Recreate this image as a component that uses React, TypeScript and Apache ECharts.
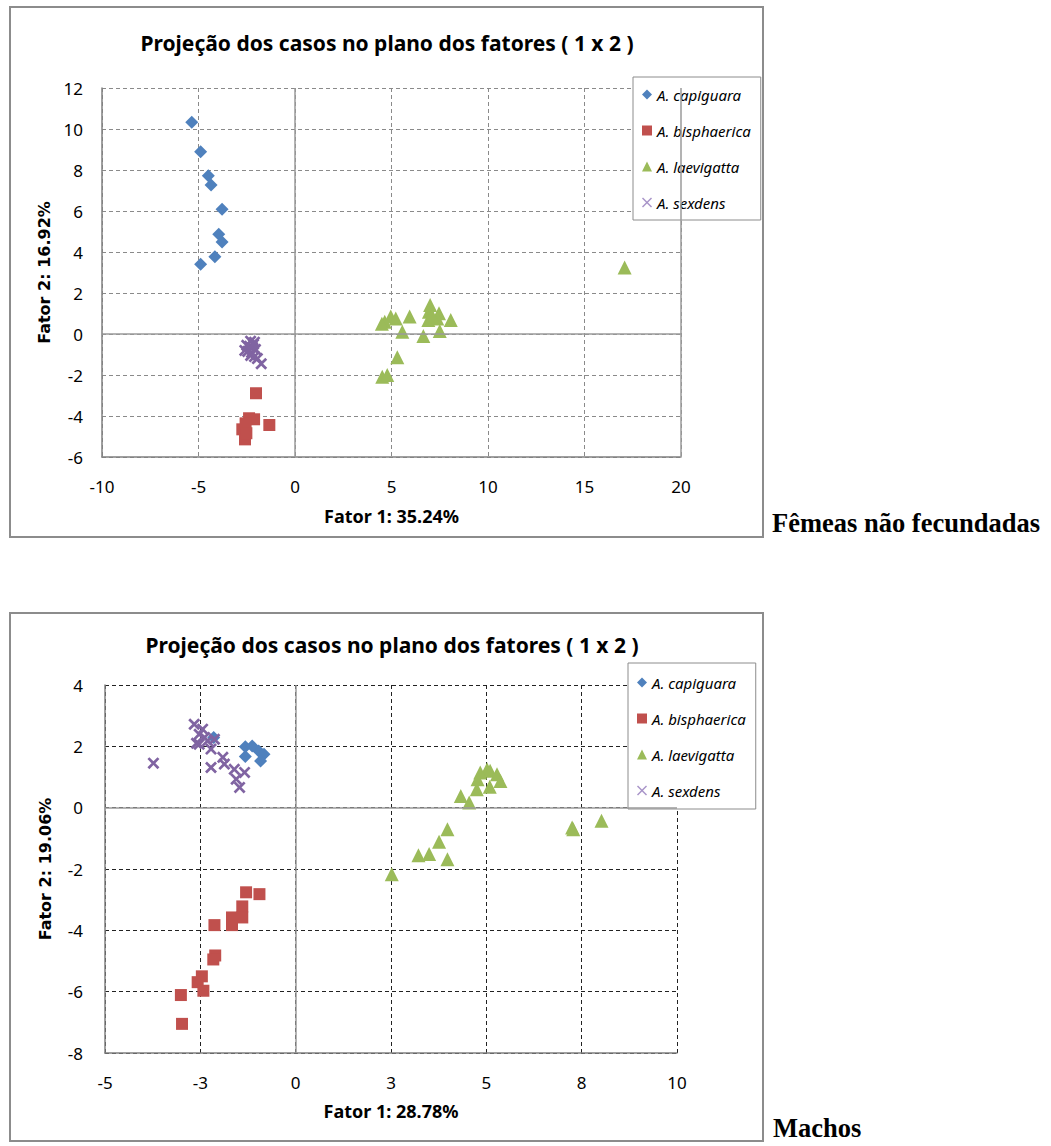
import React, { useEffect, useRef } from "react";
import * as echarts from "echarts";

const speciesNames = ["A. capiguara", "A. bisphaerica", "A. laevigatta", "A. sexdens"];
const speciesColors = ["#4F81BD", "#C0504D", "#9BBB59", "#8064A2"];

const chartTitle = "Projeção dos casos no plano dos fatores ( 1 x 2 )";
const femXName = "Fator 1: 35.24%";
const femYName = "Fator 2: 16.92%";
const macXName = "Fator 1: 28.78%";
const macYName = "Fator 2: 19.06%";
const femLabel = "Fêmeas não fecundadas";
const macLabel = "Machos";

// Fêmeas não fecundadas
const femCapiguara = [
  [-5.35, 10.33], [-4.89, 8.89], [-4.49, 7.72], [-4.35, 7.27], [-3.78, 6.08],
  [-3.95, 4.86], [-3.78, 4.49], [-4.15, 3.77], [-4.89, 3.4],
];
const femBisphaerica = [
  [-2.02, -2.89], [-2.38, -4.11], [-2.12, -4.16], [-1.33, -4.44], [-2.73, -4.65],
  [-2.56, -4.36], [-2.59, -5.14], [-2.52, -4.84],
];
const femLaevigatta = [
  [17.08, 3.25], [7.0, 1.41], [7.46, 1.01], [6.94, 1.09], [4.65, 0.6], [4.96, 0.85],
  [5.22, 0.76], [5.94, 0.85], [6.91, 0.68], [7.37, 0.76], [8.07, 0.68], [5.56, 0.11],
  [6.65, -0.1], [7.5, 0.15], [5.3, -1.14], [4.52, -2.08], [4.78, -2.0], [7.1, 0.9], [4.5, 0.5],
];
const femSexdens = [
  [-2.3, -0.35], [-2.1, -0.4], [-2.5, -0.55], [-2.35, -0.6], [-2.2, -0.65], [-2.6, -0.8],
  [-2.45, -0.85], [-2.25, -0.9], [-2.05, -0.75], [-2.3, -1.05], [-2.1, -1.1], [-1.95, -1.2],
  [-1.75, -1.45], [-2.15, -0.5],
];

// Machos
const macCapiguara = [
  [-1.32, 1.99], [-1.32, 1.67], [-0.97, 1.85], [-0.83, 1.74], [-0.92, 1.52], [-1.14, 2.01], [-2.15, 2.29],
];
const macBisphaerica = [
  [-1.3, -2.76], [-0.95, -2.82], [-1.4, -3.22], [-1.4, -3.58], [-1.67, -3.58], [-1.67, -3.83],
  [-2.13, -3.83], [-2.11, -4.82], [-2.16, -4.95], [-2.46, -5.5], [-2.57, -5.69], [-2.42, -5.97],
  [-3.01, -6.11], [-2.98, -7.05],
];
const macLaevigatta = [
  [5.02, 1.25], [4.84, 1.15], [5.1, 1.2], [5.28, 1.09], [5.37, 0.87], [4.77, 0.93], [4.75, 0.6],
  [5.09, 0.68], [4.33, 0.38], [4.55, 0.17], [3.98, -0.7], [3.76, -1.11], [3.5, -1.51], [3.22, -1.55],
  [3.98, -1.68], [7.28, -0.7], [8.02, -0.43], [2.52, -2.17], [7.25, -0.65],
];
const macSexdens = [
  [-3.73, 1.45], [-2.66, 2.72], [-2.53, 2.39], [-2.39, 2.29], [-2.53, 2.07], [-2.31, 2.18],
  [-2.22, 1.91], [-2.22, 1.31], [-1.91, 1.64], [-1.87, 1.42], [-1.61, 1.25], [-1.34, 1.15],
  [-1.56, 0.93], [-1.47, 0.66], [-2.44, 2.56], [-2.13, 2.23], [-2.6, 2.1],
];

const X_PATH = "path://M0,1.6L1.6,0L5,3.4L8.4,0L10,1.6L6.6,5L10,8.4L8.4,10L5,6.6L1.6,10L0,8.4L3.4,5Z";
const X_THIN = "path://M1,0L5,4L9,0L10,1L6,5L10,9L9,10L5,6L1,10L0,9L4,5L0,1Z";
const symbols = ["diamond", "rect", "triangle", X_PATH];
const sizes = [13, 12, 14, 12];

const FONT = '"Noto Sans", "Open Sans", sans-serif';

function roundLabel(v: number) {
  const r = Math.sign(v) * Math.round(Math.abs(v));
  return String(r === 0 ? 0 : r);
}

export default function App() {
  const ref = useRef<HTMLDivElement>(null);
  useEffect(() => {
    if (!ref.current) return;
    const chart = echarts.init(ref.current, null, { renderer: "svg" });
    const femData = [femCapiguara, femBisphaerica, femLaevigatta, femSexdens];
    const macData = [macCapiguara, macBisphaerica, macLaevigatta, macSexdens];

    const series: any[] = [];
    [femData, macData].forEach((set, gi) => {
      series.push({
        type: "scatter",
        xAxisIndex: gi,
        yAxisIndex: gi,
        data: [],
        silent: true,
        z: 1,
        markLine: {
          silent: true,
          symbol: "none",
          label: { show: false },
          lineStyle: { color: "#9a9a9a", type: "solid", width: 1.5 },
          data: gi === 0 ? [{ xAxis: 0 }, { yAxis: 0 }, { xAxis: 20 }] : [{ xAxis: 0 }, { yAxis: 0 }],
        },
      });
      set.forEach((d, i) => {
        series.push({
          type: "scatter",
          name: speciesNames[i],
          xAxisIndex: gi,
          yAxisIndex: gi,
          data: d,
          symbol: symbols[i],
          symbolSize: sizes[i],
          itemStyle: { color: speciesColors[i], opacity: 1 },
          z: 3,
        });
      });
    });

    const axisLabel = { color: "#000", fontSize: 17, fontFamily: FONT };
    const nameStyleX = { color: "#000", fontSize: 18, fontWeight: "bold", fontFamily: FONT };
    const nameStyleY = { color: "#000", fontSize: 16, fontWeight: "bold", fontFamily: '"DejaVu Sans", sans-serif' };

    const legendItems = speciesNames.map((n, i) =>
      i === 3 ? { name: n, icon: X_THIN, itemStyle: { color: "#a793c8" } } : { name: n }
    );

    const legendBase = {
      orient: "vertical",
      data: legendItems,
      itemWidth: 10,
      itemHeight: 10,
      itemGap: 19,
      borderColor: "#8c8c8c",
      borderWidth: 1,
      backgroundColor: "#fff",
      selectedMode: false,
      textStyle: { fontSize: 15, fontStyle: "italic", color: "#000", fontFamily: FONT, lineHeight: 17 },
    };

    chart.setOption({
      animation: false,
      backgroundColor: "#fff",
      grid: [
        { left: 102, top: 88, width: 579, height: 369 },
        { left: 105, top: 685, width: 572, height: 368 },
      ],
      xAxis: [
        {
          gridIndex: 0, type: "value", min: -10, max: 20, interval: 5,
          axisLine: { onZero: false, lineStyle: { color: "#808080", width: 1.5 } },
          axisTick: { show: false },
          axisLabel: { ...axisLabel, margin: 21 },
          splitLine: { lineStyle: { color: "#8a8a8a", type: [4, 3] } },
          name: femXName, nameLocation: "middle", nameGap: 50, nameTextStyle: nameStyleX,
        },
        {
          gridIndex: 1, type: "value", min: -5, max: 10, interval: 2.5,
          axisLine: { onZero: false, lineStyle: { color: "#808080", width: 1.5 } },
          axisTick: { show: false },
          axisLabel: { ...axisLabel, margin: 21, formatter: (v: number) => roundLabel(v) },
          splitLine: { lineStyle: { color: "#222", type: [4, 3] } },
          name: macXName, nameLocation: "middle", nameGap: 49, nameTextStyle: nameStyleX,
        },
      ],
      yAxis: [
        {
          gridIndex: 0, type: "value", min: -6, max: 12, interval: 2,
          axisLine: { show: true, onZero: false, lineStyle: { color: "#808080", width: 1.5 } },
          axisTick: { show: false },
          axisLabel: { ...axisLabel, margin: 19 },
          splitLine: { lineStyle: { color: "#8a8a8a", type: [4, 3] } },
          name: femYName, nameLocation: "middle", nameGap: 49, nameTextStyle: nameStyleY,
        },
        {
          gridIndex: 1, type: "value", min: -8, max: 4, interval: 2,
          axisLine: { show: true, onZero: false, lineStyle: { color: "#808080", width: 1.5 } },
          axisTick: { show: false },
          axisLabel: { ...axisLabel, margin: 22 },
          splitLine: { lineStyle: { color: "#222", type: [4, 3] } },
          name: macYName, nameLocation: "middle", nameGap: 52, nameTextStyle: nameStyleY,
        },
      ],
      legend: [
        { ...legendBase, left: 633, top: 77, padding: [9, 10, 9, 9] },
        { ...legendBase, left: 628, top: 663, padding: [11, 10, 10, 9] },
      ],
      graphic: [
        { type: "rect", shape: { x: 10, y: 7, width: 753, height: 530 }, style: { fill: "none", stroke: "#8c8c8c", lineWidth: 2 }, z: -1 },
        { type: "rect", shape: { x: 10, y: 613, width: 753, height: 528 }, style: { fill: "none", stroke: "#8c8c8c", lineWidth: 2 }, z: -1 },
        { type: "text", x: 387, y: 43, style: { text: chartTitle, fill: "#000", font: `bold 21px ${FONT}`, textAlign: "center", textVerticalAlign: "middle" } },
        { type: "text", x: 392, y: 645, style: { text: chartTitle, fill: "#000", font: `bold 21px ${FONT}`, textAlign: "center", textVerticalAlign: "middle" } },
        { type: "text", x: 772, y: 536, style: { text: femLabel, fill: "#000", font: 'bold 26.5px "Liberation Serif", "Times New Roman", serif', textAlign: "left", textVerticalAlign: "bottom" } },
        { type: "text", x: 773, y: 1141, style: { text: macLabel, fill: "#000", font: 'bold 26.5px "Liberation Serif", "Times New Roman", serif', textAlign: "left", textVerticalAlign: "bottom" } },
      ],
      series,
    });
    return () => chart.dispose();
  }, []);
  return <div ref={ref} style={{ position: "absolute", left: 0, top: 0, width: 1051, height: 1146 }} />;
}
